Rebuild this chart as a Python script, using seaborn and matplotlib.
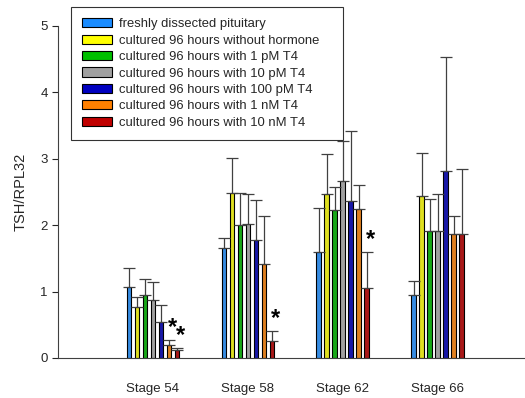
import numpy as np
import pandas as pd
import matplotlib
matplotlib.use("Agg")
import matplotlib.pyplot as plt
import seaborn as sns
from matplotlib.patches import Patch

stages = ["Stage 54", "Stage 58", "Stage 62", "Stage 66"]
treatments = [
    "freshly dissected pituitary",
    "cultured 96 hours without hormone",
    "cultured 96 hours with 1 pM T4",
    "cultured 96 hours with 10 pM T4",
    "cultured 96 hours with 100 pM T4",
    "cultured 96 hours with 1 nM T4",
    "cultured 96 hours with 10 nM T4",
]
colors = ["#1a8cff", "#ffff00", "#00c000", "#a0a0a0", "#0000c0", "#ff8000", "#c00000"]

# mean TSH/RPL32 per treatment, one value per stage
mean_fresh = [1.07, 1.65, 1.60, 0.95]
mean_none = [0.77, 2.49, 2.47, 2.44]
mean_1pM = [0.95, 2.01, 2.23, 1.91]
mean_10pM = [0.87, 2.02, 2.66, 1.92]
mean_100pM = [0.54, 1.78, 2.36, 2.82]
mean_1nM = [0.20, 1.42, 2.24, 1.87]
mean_10nM = [0.12, 0.25, 1.06, 1.86]

# upper error (SD) per treatment
err_fresh = [0.28, 0.15, 0.66, 0.21]
err_none = [0.15, 0.52, 0.60, 0.64]
err_1pM = [0.24, 0.48, 0.34, 0.49]
err_10pM = [0.27, 0.45, 0.61, 0.55]
err_100pM = [0.26, 0.60, 1.06, 1.71]
err_1nM = [0.07, 0.72, 0.36, 0.27]
err_10nM = [0.03, 0.16, 0.54, 0.98]

# significance markers: (stage index, treatment index)
significant = [(0, 5), (0, 6), (1, 6), (2, 6)]

means = [mean_fresh, mean_none, mean_1pM, mean_10pM, mean_100pM, mean_1nM, mean_10nM]
errs = [err_fresh, err_none, err_1pM, err_10pM, err_100pM, err_1nM, err_10nM]

rows = []
for t, m, e in zip(treatments, means, errs):
    for s, mv, ev in zip(stages, m, e):
        rows.append({"stage": s, "treatment": t, "value": mv, "err": ev})
df = pd.DataFrame(rows)

sns.set_style("ticks")
plt.rcParams["font.family"] = ["Liberation Sans", "DejaVu Sans"]

fig = plt.figure(figsize=(5.25, 3.98), dpi=100)
ax = fig.add_axes([58 / 525, 40 / 398, 467 / 525, 332 / 398])

sns.barplot(data=df, x="stage", y="value", hue="treatment", order=stages,
            hue_order=treatments, palette=colors, width=0.59, gap=0.42,
            edgecolor="black", linewidth=0.8, errorbar=None, legend=False, ax=ax)

rgb = [np.array(matplotlib.colors.to_rgb(c)) for c in colors]

# upper error bars and significance stars, placed at the drawn bars
bars = [p for p in ax.patches if p.get_height() > 0]
for p in bars:
    xc = p.get_x() + p.get_width() / 2
    h = p.get_height()
    si = int(round(xc))
    fc = np.array(p.get_facecolor()[:3])
    ti = int(np.argmin([np.abs(fc - c).sum() for c in rgb]))
    e = errs[ti][si]
    ax.errorbar(xc, h, yerr=[[0], [e]], fmt="none", ecolor="#404040",
                elinewidth=0.9, capsize=4.5, capthick=0.9, zorder=1)
    if (si, ti) in significant:
        ax.text(xc + 0.035, h + e + 0.01, "*", ha="center", va="bottom",
                fontsize=17, fontweight="bold", color="black")

ax.set_xlim(-1.0, 3.92)
ax.set_ylim(0, 5)
ax.set_yticks([0, 1, 2, 3, 4, 5])
ax.set_xlabel("")
ax.set_ylabel("TSH/RPL32", fontsize=10.5, labelpad=9)
ax.tick_params(axis="x", length=0, labelsize=9.5, pad=18)
ax.tick_params(axis="y", length=4, labelsize=9.5, width=0.8)
for side in ["top", "right"]:
    ax.spines[side].set_visible(False)
for side in ["left", "bottom"]:
    ax.spines[side].set_linewidth(0.8)
    ax.spines[side].set_color("#404040")

handles = [Patch(facecolor=c, edgecolor="black", linewidth=0.8) for c in colors]
leg = fig.legend(handles, treatments, loc="upper left", mode="expand",
                 bbox_to_anchor=(71 / 525, 1 - 130 / 398, 272 / 525, 123 / 398),
                 borderaxespad=0, fontsize=9.4,
                 frameon=True, fancybox=False, edgecolor="black",
                 handlelength=2.3, handleheight=0.7, handletextpad=0.5,
                 labelspacing=0.33, borderpad=0.85)
leg.get_frame().set_linewidth(0.8)

fig.savefig("out.png", dpi=100)
